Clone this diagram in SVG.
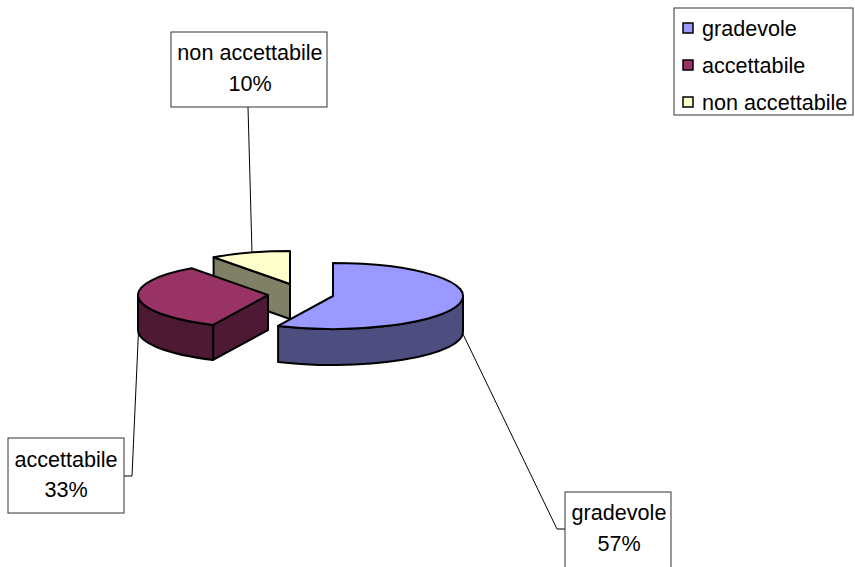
<svg xmlns="http://www.w3.org/2000/svg" width="855" height="567" viewBox="0 0 855 567">
<style>
text{font-family:"Liberation Sans",Arial,sans-serif;font-size:21.6px;fill:#000}
.box{fill:#fff;stroke:#333;stroke-width:1}
.lead{fill:none;stroke:#000;stroke-width:1}
.pie{stroke:#000;stroke-width:2;stroke-linejoin:round}
.sw{stroke:#000;stroke-width:1.5}
</style>
<rect width="855" height="567" fill="#fff"/>
<g id="connectors">
<path class="lead" d="M248,107 L252,253"/>
<path class="lead" d="M139,320 L132,476 L124,476"/>
<path class="lead" d="M461,330 L557,529 L565,529"/>
</g>
<g id="slice-non-accettabile">
<path class="pie" fill="#808066" d="M290,284 L213.6,257.3 L213.6,292.3 L290,319 Z"/>
<path class="pie" fill="#FFFFCC" d="M290,284 L213.6,257.3 A130,33 0 0,1 290,251 Z"/>
</g>
<g id="slice-accettabile">
<path class="pie" fill="#4D1933" d="M268,295 L213.1,324.9 L213.1,359.9 L268,330 Z"/>
<path class="pie" fill="#4D1933" d="M213.1,324.9 A130,33 0 0,1 138,295 L138,330 A130,33 0 0,0 213.1,359.9 Z"/>
<path class="pie" fill="#993366" d="M268,295 L213.1,324.9 A130,33 0 0,1 191.6,268.3 Z"/>
</g>
<g id="slice-gradevole">
<path class="pie" fill="#4D4D80" d="M463,296 A130,33 0 0,1 278.1,325.9 L278.1,361.9 A130,33 0 0,0 463,332 Z"/>
<path class="pie" fill="#9999FF" d="M333,296 L333,263 A130,33 0 1,1 278.1,325.9 Z"/>
</g>
<g id="label-non-accettabile">
<rect class="box" x="171" y="32" width="156" height="75"/>
<text x="250" y="60" text-anchor="middle">non accettabile</text>
<text x="250" y="91" text-anchor="middle">10%</text>
</g>
<g id="label-accettabile">
<rect class="box" x="8" y="438" width="116" height="75"/>
<text x="66" y="467" text-anchor="middle">accettabile</text>
<text x="66" y="497" text-anchor="middle">33%</text>
</g>
<g id="label-gradevole">
<rect class="box" x="565" y="492" width="106" height="80"/>
<text x="619" y="520" text-anchor="middle">gradevole</text>
<text x="619" y="551" text-anchor="middle">57%</text>
</g>
<g id="legend">
<rect class="box" x="674" y="8" width="179" height="107"/>
<rect class="sw" x="683" y="23" width="10" height="10" fill="#9999FF"/>
<text x="702" y="36">gradevole</text>
<rect class="sw" x="683" y="60" width="10" height="10" fill="#993366"/>
<text x="702" y="73">accettabile</text>
<rect class="sw" x="683" y="97" width="10" height="10" fill="#FFFFCC"/>
<text x="702" y="110">non accettabile</text>
</g>
</svg>
